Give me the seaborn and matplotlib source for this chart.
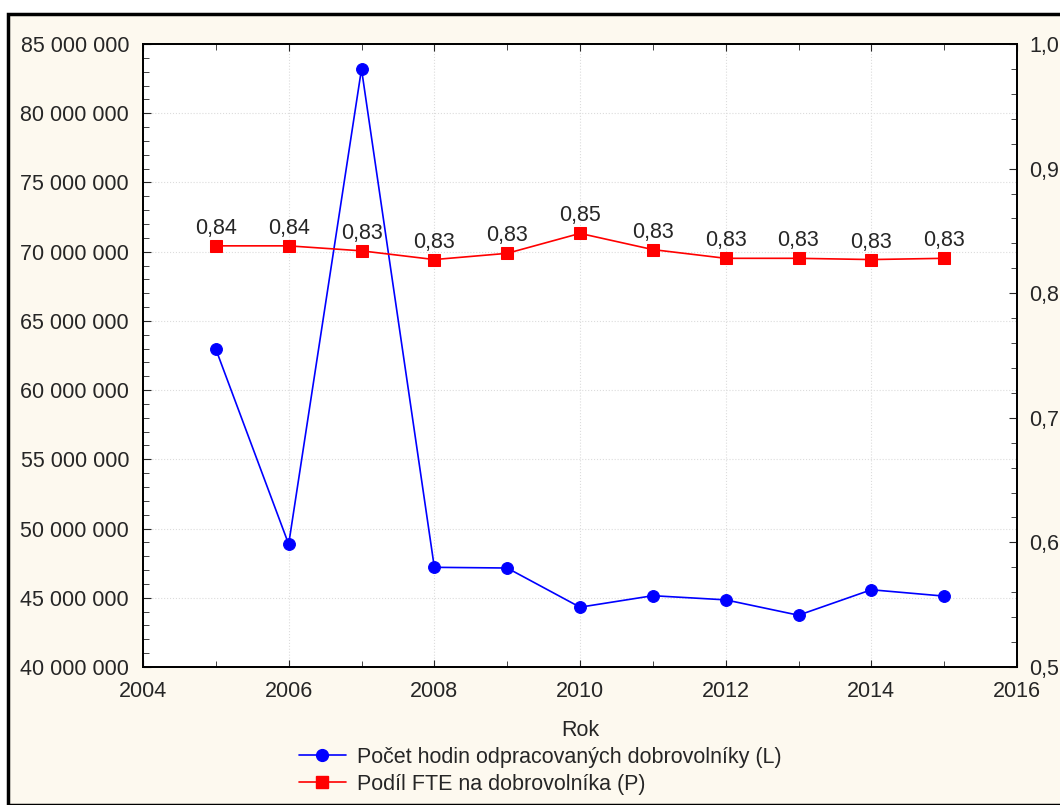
import numpy as np
import pandas as pd
import matplotlib.pyplot as plt
import matplotlib.ticker as mticker
from matplotlib.lines import Line2D
from matplotlib.patches import Rectangle
import seaborn as sns

years = [2005, 2006, 2007, 2008, 2009, 2010, 2011, 2012, 2013, 2014, 2015]
hours = [62.96e6, 48.87e6, 83.19e6, 47.2e6, 47.15e6, 44.32e6, 45.15e6, 44.85e6, 43.74e6, 45.58e6, 45.12e6]
fte = [0.838, 0.838, 0.834, 0.827, 0.832, 0.848, 0.835, 0.828, 0.828, 0.827, 0.828]

label_l = 'Počet hodin odpracovaných dobrovolníky (L)'
label_p = 'Podíl FTE na dobrovolníka (P)'

df = pd.DataFrame({'Rok': years, 'hodiny': hours, 'fte': fte})

sns.set_style('white')
plt.rcParams['font.family'] = ['Liberation Sans', 'DejaVu Sans']
bg = '#fdf9ef'
fs = 15.5

fig = plt.figure(figsize=(10.6, 8.05), dpi=100, facecolor='white')
fig.patches.append(Rectangle((8 / 1060, 0), 1.1, (805 - 14) / 805, transform=fig.transFigure,
                             facecolor=bg, edgecolor='black', linewidth=2.5, zorder=-10))
ax = fig.add_axes([143 / 1060, 1 - 667 / 805, (1017 - 143) / 1060, (667 - 44) / 805])
ax.set_facecolor('white')

sns.lineplot(data=df, x='Rok', y='hodiny', ax=ax, color='#0000ff', marker='o', markersize=8.5,
             markeredgecolor='#0000ff', linewidth=1.2, zorder=3)
ax2 = ax.twinx()
sns.lineplot(data=df, x='Rok', y='fte', ax=ax2, color='#ff0000', marker='s', markersize=8.5,
             markeredgecolor='#ff0000', linewidth=1.2, zorder=3)
for x, y in zip(years, fte):
    ax2.annotate(f'{y:.2f}'.replace('.', ','), (x, y), xytext=(0, 5), textcoords='offset points',
                 ha='center', va='bottom', fontsize=fs)

ax.set_xlim(2004, 2016)
ax.set_ylim(40e6, 85e6)
ax2.set_ylim(0.5, 1.0)

ax.xaxis.set_major_locator(mticker.MultipleLocator(2))
ax.xaxis.set_minor_locator(mticker.MultipleLocator(1))
ax.yaxis.set_major_locator(mticker.MultipleLocator(5e6))
ax.yaxis.set_minor_locator(mticker.MultipleLocator(1e6))
ax.yaxis.set_major_formatter(mticker.FuncFormatter(lambda v, p: f'{int(v):,}'.replace(',', ' ')))
ax2.yaxis.set_major_locator(mticker.MultipleLocator(0.1))
ax2.yaxis.set_minor_locator(mticker.MultipleLocator(0.02))
ax2.yaxis.set_major_formatter(mticker.FuncFormatter(lambda v, p: f'{v:.1f}'.replace('.', ',')))

ax.grid(True, which='major', color='#dcdcdc', linestyle=':', linewidth=0.8)
ax.tick_params(axis='x', which='both', direction='in', top=True, bottom=True, labelsize=fs, pad=10)
ax.tick_params(axis='x', which='major', length=5)
ax.tick_params(axis='x', which='minor', length=4)
ax.tick_params(axis='y', which='both', direction='in', left=True, labelsize=fs, pad=10)
ax.tick_params(axis='y', which='major', length=6)
ax.tick_params(axis='y', which='minor', length=4)
ax2.tick_params(axis='y', which='both', direction='in', right=True, labelsize=fs, pad=9)
ax2.tick_params(axis='y', which='major', length=6)
ax2.tick_params(axis='y', which='minor', length=4)

for a in (ax, ax2):
    for s in a.spines.values():
        s.set_visible(True)
        s.set_color('black')
        s.set_linewidth(1.3)

ax.set_xlabel('Rok', fontsize=fs, labelpad=13)
ax.set_ylabel('')
ax2.set_ylabel('')

handles = [Line2D([], [], color='#0000ff', marker='o', markersize=8.5, linewidth=1.2),
           Line2D([], [], color='#ff0000', marker='s', markersize=8.5, linewidth=1.2)]
fig.legend(handles, [label_l, label_p], loc='center', bbox_to_anchor=(540 / 1060, 1 - 771 / 805),
           frameon=False, fontsize=fs, handlelength=2.2, handletextpad=0.5, labelspacing=0.28)

fig.savefig('out.png', dpi=100, facecolor=fig.get_facecolor())
